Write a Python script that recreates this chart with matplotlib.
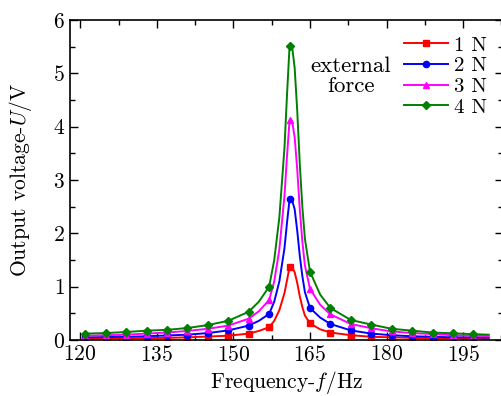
import matplotlib
matplotlib.use("Agg")
import matplotlib.pyplot as plt
from matplotlib.ticker import MultipleLocator

plt.rcParams["font.family"] = "serif"
plt.rcParams["font.serif"] = ["cmr10", "DejaVu Serif"]
plt.rcParams["mathtext.fontset"] = "cm"
plt.rcParams["axes.formatter.use_mathtext"] = True

# measured frequencies (markers)
freq = [121, 125, 129, 133, 137, 141, 145, 149, 153, 157, 161,
        165, 169, 173, 177, 181, 185, 189, 193, 197]

u_1n = [0.02, 0.025, 0.03, 0.035, 0.04, 0.05, 0.065, 0.08, 0.12, 0.24, 1.37,
        0.31, 0.14, 0.09, 0.06, 0.05, 0.04, 0.03, 0.03, 0.025]
u_2n = [0.05, 0.055, 0.06, 0.07, 0.085, 0.10, 0.13, 0.18, 0.27, 0.49, 2.64,
        0.60, 0.30, 0.18, 0.12, 0.09, 0.07, 0.06, 0.05, 0.05]
u_3n = [0.08, 0.09, 0.10, 0.12, 0.14, 0.17, 0.21, 0.27, 0.40, 0.75, 4.12,
        0.96, 0.48, 0.30, 0.22, 0.16, 0.13, 0.11, 0.09, 0.08]
u_4n = [0.12, 0.13, 0.15, 0.175, 0.19, 0.225, 0.28, 0.36, 0.53, 1.00, 5.51,
        1.28, 0.60, 0.375, 0.29, 0.21, 0.175, 0.14, 0.125, 0.11]

# extra points (line only)
freq_fit = [155, 158, 159, 160, 160.5, 161.5, 162, 162.5, 163, 163.5, 164, 167, 200]
fit_1n = [0.17, 0.36, 0.56, 0.88, 1.12, 1.36, 1.27, 1.07, 0.82, 0.62, 0.46, 0.20, 0.02]
fit_2n = [0.36, 0.72, 1.10, 1.72, 2.20, 2.62, 2.45, 2.05, 1.58, 1.20, 0.90, 0.42, 0.045]
fit_3n = [0.54, 1.10, 1.70, 2.70, 3.45, 4.10, 3.80, 3.20, 2.45, 1.85, 1.40, 0.66, 0.075]
fit_4n = [0.72, 1.50, 2.30, 3.60, 4.60, 5.50, 5.10, 4.30, 3.30, 2.50, 1.90, 0.85, 0.10]

labels = ["1 N", "2 N", "3 N", "4 N"]
colors = ["#ff0000", "#0000ff", "#ff00ff", "#008000"]
markers = ["s", "o", "^", "D"]

fig = plt.figure(figsize=(5.01, 3.96), dpi=100)
ax = fig.add_axes([70 / 501, 56 / 396, 432.5 / 501, 320 / 396])

for u, fit, lab, c, m in zip([u_1n, u_2n, u_3n, u_4n], [fit_1n, fit_2n, fit_3n, fit_4n],
                             labels, colors, markers):
    pts = sorted(list(zip(freq, u, [True] * len(freq))) + list(zip(freq_fit, fit, [False] * len(fit))))
    xs = [p[0] for p in pts]
    ys = [p[1] for p in pts]
    idx = [i for i, p in enumerate(pts) if p[2]]
    ax.plot(xs, ys, color=c, marker=m, markevery=idx, lw=1.4, ms=4.5, label=lab)

ax.set_xlim(118, 202.7)
ax.set_ylim(0, 6)
ax.xaxis.set_major_locator(MultipleLocator(15))
ax.xaxis.set_minor_locator(MultipleLocator(7.5))
ax.yaxis.set_major_locator(MultipleLocator(1))
ax.yaxis.set_minor_locator(MultipleLocator(0.5))
ax.tick_params(which="both", direction="in", top=True, right=True, labelsize=15.5, width=1)
ax.tick_params(which="major", length=6)
ax.tick_params(which="minor", length=3.5)
for s in ax.spines.values():
    s.set_linewidth(1.2)

ax.set_xlabel("Frequency-$f$/Hz", fontsize=15.5, labelpad=3)
ax.set_ylabel("Output voltage-$U$/V", fontsize=15.5, labelpad=14)

ax.legend(loc="upper left", bbox_to_anchor=(404 / 501, 1 - 36 / 396),
          bbox_transform=fig.transFigure, frameon=False, fontsize=15,
          handlelength=2.1, handletextpad=0.3, labelspacing=0.1,
          borderpad=0, borderaxespad=0)
fig.text(351 / 501, 1 - 76 / 396, "external\nforce", ha="center", va="center",
         fontsize=16.5, linespacing=1.05)

fig.savefig("out.png", dpi=100)
